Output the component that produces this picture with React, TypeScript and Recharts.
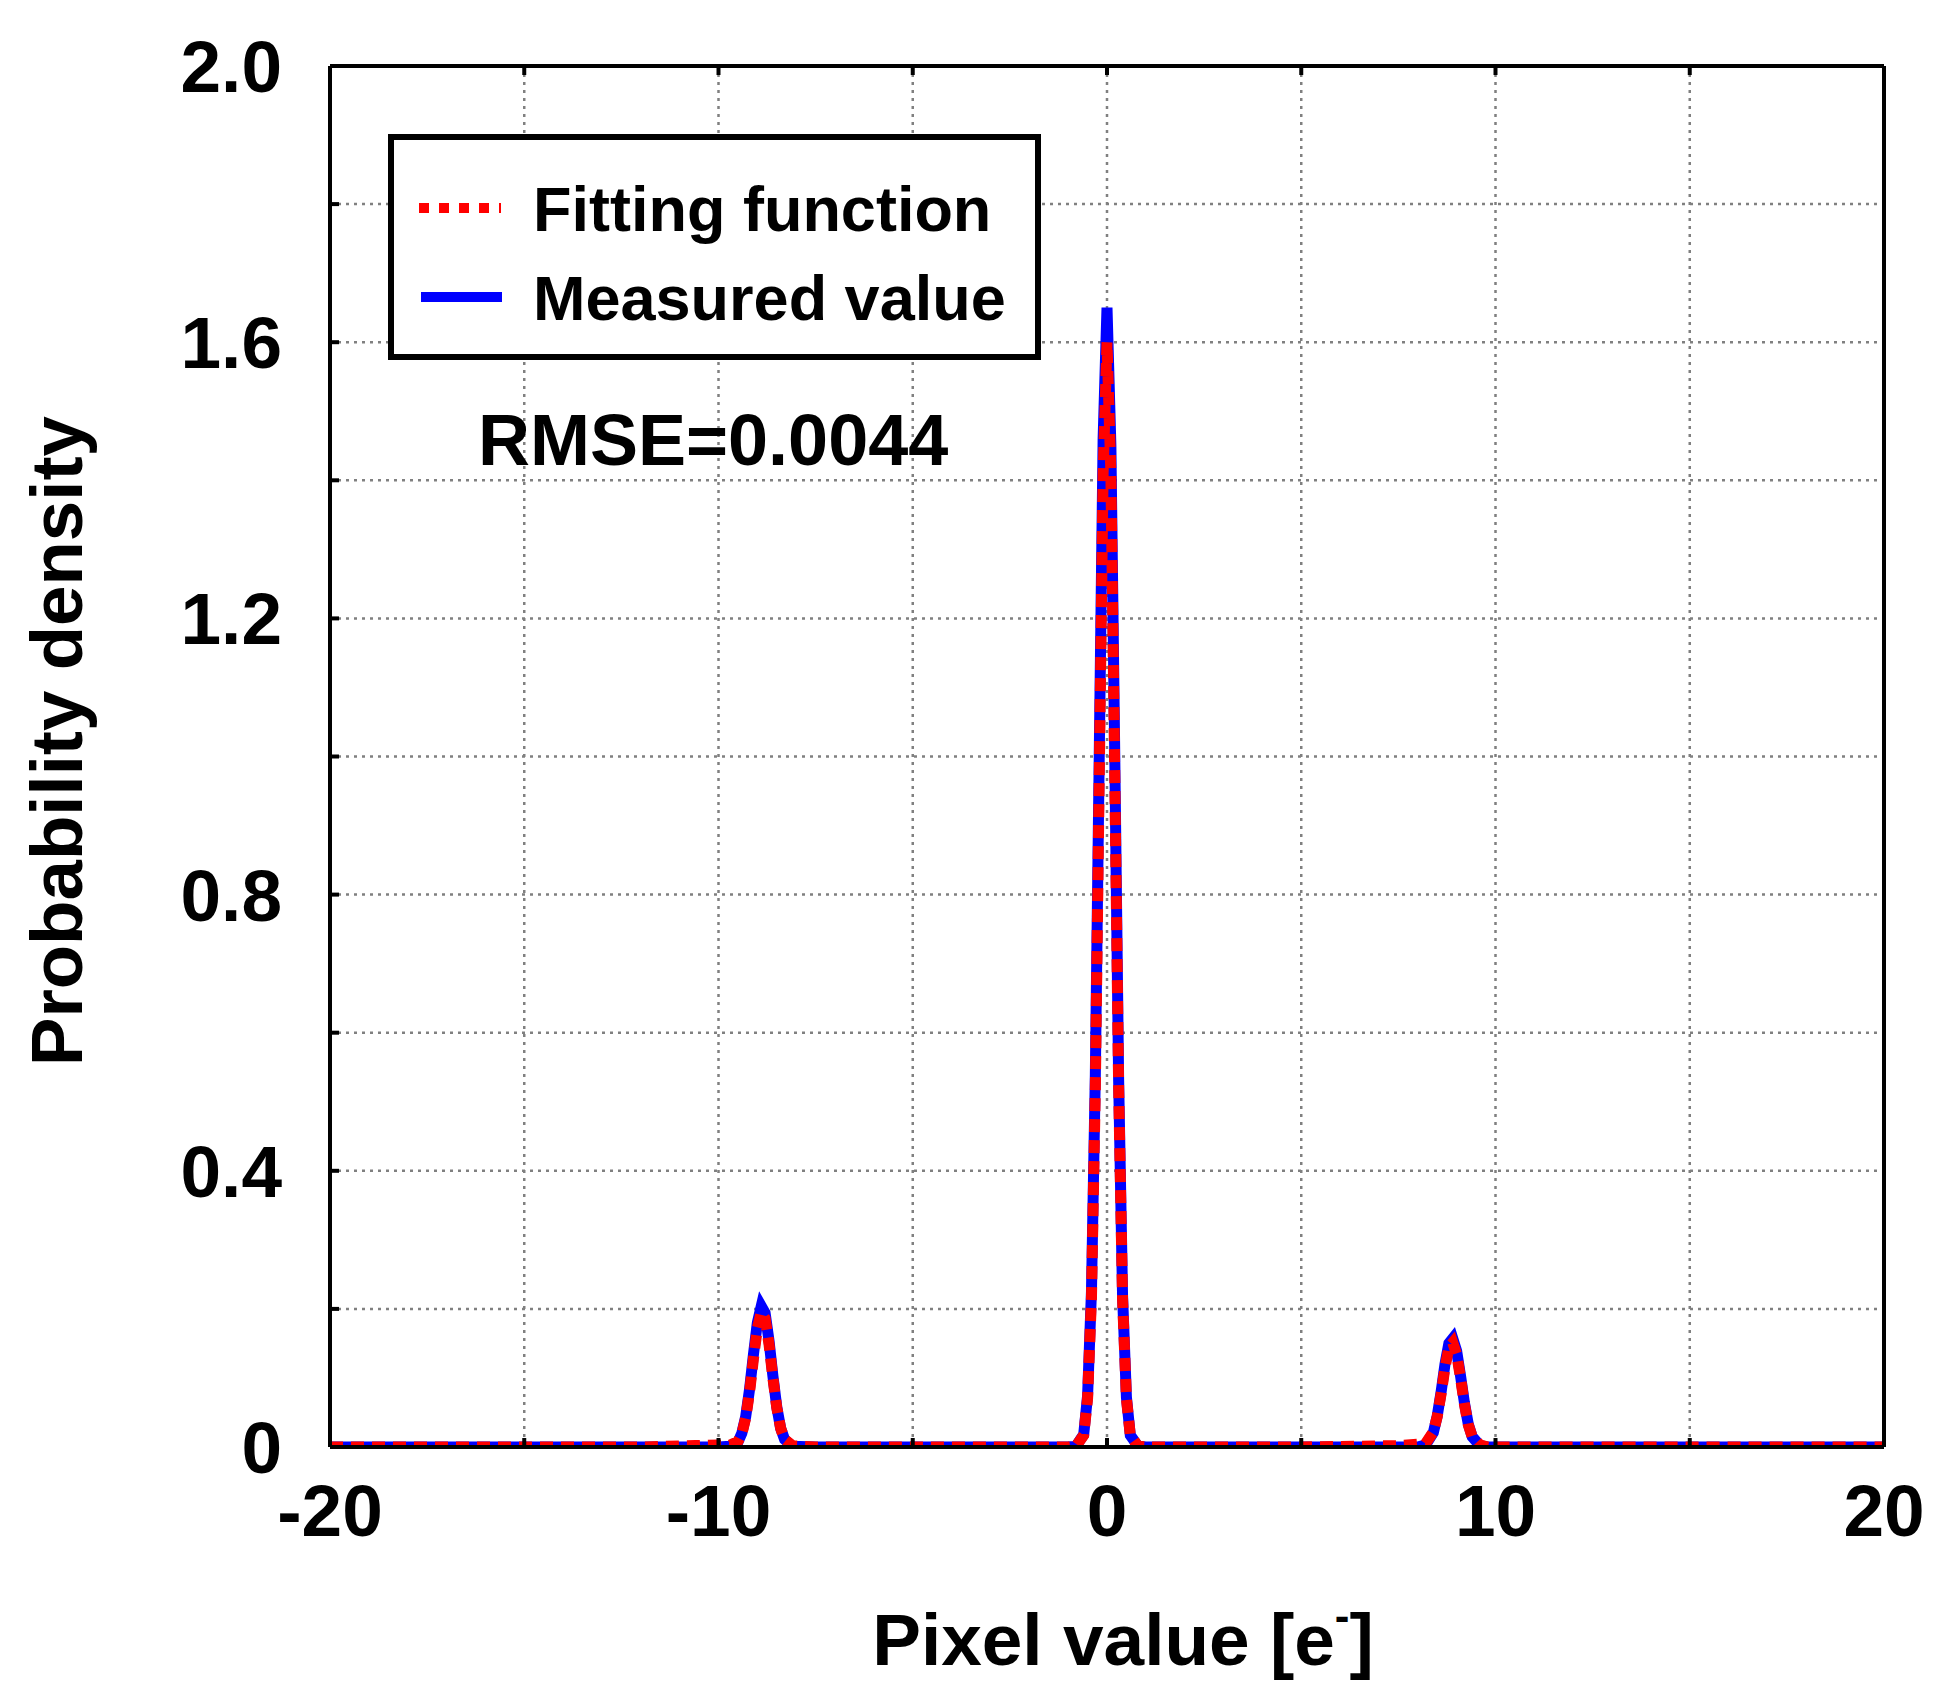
import React from "react";
import {
  LineChart,
  Line,
  XAxis,
  YAxis,
  CartesianGrid,
  Legend,
} from "recharts";

// pixel values [e-] where the curves were read
const pixelValues = [
  -20, -15, -12, -10.6, -10, -9.7, -9.5, -9.4, -9.3, -9.2, -9.1, -9.0, -8.9,
  -8.8, -8.7, -8.6, -8.5, -8.4, -8.3, -8.1, -7.5, -5, -3, -1.6, -1.0, -0.8,
  -0.6, -0.5, -0.4, -0.3, -0.2, -0.1, 0, 0.1, 0.2, 0.3, 0.4, 0.5, 0.6, 0.8,
  1.0, 1.6, 3, 5, 7.5, 8.0, 8.2, 8.4, 8.5, 8.6, 8.7, 8.8, 8.9, 9.0, 9.1, 9.2,
  9.3, 9.4, 9.6, 9.8, 10.5, 12, 15, 20,
];

const measuredValue = [
  0, 0, 0, 0, 0, 0.001, 0.007, 0.02, 0.044, 0.084, 0.134, 0.18, 0.204,
  0.194, 0.154, 0.103, 0.058, 0.027, 0.011, 0.001, 0, 0, 0, 0, 0, 0.001,
  0.018, 0.074, 0.225, 0.54, 1.0, 1.46, 1.65, 1.45, 1.0, 0.53, 0.22, 0.072,
  0.017, 0.001, 0, 0, 0, 0, 0, 0, 0.003, 0.021, 0.045, 0.08, 0.12, 0.15,
  0.157, 0.139, 0.103, 0.064, 0.033, 0.015, 0.002, 0, 0, 0, 0, 0,
];

const fittingFunction = [
  0, 0, 0, 0.002, 0.003, 0.003, 0.008, 0.019, 0.042, 0.08, 0.128, 0.172,
  0.195, 0.186, 0.149, 0.1, 0.057, 0.027, 0.011, 0.002, 0, 0, 0, 0, 0,
  0.001, 0.017, 0.07, 0.216, 0.52, 0.97, 1.41, 1.6, 1.41, 0.97, 0.52, 0.215,
  0.07, 0.017, 0.001, 0, 0, 0, 0, 0.002, 0.004, 0.005, 0.022, 0.044, 0.077,
  0.115, 0.144, 0.151, 0.134, 0.1, 0.062, 0.032, 0.015, 0.003, 0, 0, 0, 0, 0,
];

const xTicks = [-20, -15, -10, -5, 0, 5, 10, 15, 20];
const xLabelled = [-20, -10, 0, 10, 20];
const yTicks = [0, 0.2, 0.4, 0.6, 0.8, 1.0, 1.2, 1.4, 1.6, 1.8, 2.0];
const yLabels: Record<string, string> = {
  "0": "0",
  "0.4": "0.4",
  "0.8": "0.8",
  "1.2": "1.2",
  "1.6": "1.6",
  "2": "2.0",
};

const data = pixelValues.map((x, i) => ({
  x,
  measured: measuredValue[i],
  fitting: fittingFunction[i],
}));

const FONT = "'Liberation Sans', Arial, Helvetica, sans-serif";
const tickStyle = { fontSize: 73, fontWeight: 700, fill: "#000", fontFamily: FONT };

function LegendBox() {
  return (
    <svg width={653} height={226} style={{ display: "block" }}>
      <rect x={3} y={3} width={647} height={220} fill="#fff" stroke="#000" strokeWidth={6} />
      <line x1={31} y1={74} x2={113} y2={74} stroke="#ff0000" strokeWidth={10} strokeDasharray="10 10" />
      <line x1={33} y1={163} x2={114} y2={163} stroke="#0000ff" strokeWidth={10} />
      <text x={145} y={97} fontSize={63} fontWeight={700} fontFamily={FONT}>
        Fitting function
      </text>
      <text x={145} y={186} fontSize={63} fontWeight={700} fontFamily={FONT}>
        Measured value
      </text>
    </svg>
  );
}

function XLabel(props: any) {
  const vb = props.viewBox || {};
  const cx = vb.x + vb.width / 2 + 16;
  return (
    <text x={cx} y={1657} textAnchor="middle" fontSize={73} fontWeight={700} fontFamily={FONT}>
      Pixel value [e
      <tspan dy={-34} fontSize={44}>-</tspan>
      <tspan dy={34}>]</tspan>
    </text>
  );
}

function YLabel() {
  return (
    <text
      x={74}
      y={733}
      transform="rotate(-90 74 733)"
      textAnchor="middle"
      fontSize={72}
      fontWeight={700}
      fontFamily={FONT}
      textLength={650}
      lengthAdjust="spacingAndGlyphs"
    >
      Probability density
    </text>
  );
}

function App() {
  return (
    <div style={{ position: "relative", width: 1932, height: 1692, background: "#fff" }}>
      <LineChart
        width={1932}
        height={1692}
        data={data}
        margin={{ top: 48, right: 46, left: 172, bottom: 103 }}
      >
        <CartesianGrid stroke="#808080" strokeWidth={2.5} strokeDasharray="3 5" />
        <XAxis
          dataKey="x"
          type="number"
          domain={[-20, 20]}
          ticks={xTicks}
          allowDataOverflow
          height={150}
          axisLine={{ stroke: "#000", strokeWidth: 4 }}
          tickLine={{ stroke: "#000", strokeWidth: 4 }}
          tickSize={-9}
          tickMargin={46}
          tick={tickStyle}
          tickFormatter={(v: number) => (xLabelled.includes(v) ? String(v) : "")}
          label={<XLabel />}
        />
        <XAxis
          xAxisId="top"
          orientation="top"
          dataKey="x"
          type="number"
          domain={[-20, 20]}
          ticks={xTicks}
          height={10}
          axisLine={{ stroke: "#000", strokeWidth: 4 }}
          tickLine={{ stroke: "#000", strokeWidth: 4 }}
          tickSize={-9}
          tickFormatter={() => ""}
        />
        <YAxis
          type="number"
          domain={[0, 2]}
          ticks={yTicks}
          allowDataOverflow
          width={150}
          axisLine={{ stroke: "#000", strokeWidth: 4 }}
          tickLine={{ stroke: "#000", strokeWidth: 4 }}
          tickSize={-9}
          tickMargin={57}
          tick={tickStyle}
          tickFormatter={(v: number) => yLabels[String(Math.round(v * 10) / 10)] ?? ""}
          label={<YLabel />}
        />
        <YAxis
          yAxisId="right"
          orientation="right"
          type="number"
          domain={[0, 2]}
          ticks={yTicks}
          width={10}
          axisLine={{ stroke: "#000", strokeWidth: 4 }}
          tickLine={{ stroke: "#000", strokeWidth: 4 }}
          tickSize={-9}
          tickFormatter={() => ""}
        />
        <Legend
          layout="horizontal"
          verticalAlign="middle"
          align="center"
          content={() => <LegendBox />}
          wrapperStyle={{ position: "absolute", left: 380, top: 126, width: 653, height: 226 }}
        />
        <Line
          type="linear"
          dataKey="measured"
          name="Measured value"
          stroke="#0000ff"
          strokeWidth={11}
          dot={false}
          isAnimationActive={false}
        />
        <Line
          type="linear"
          dataKey="fitting"
          name="Fitting function"
          stroke="#ff0000"
          strokeWidth={11}
          strokeDasharray="13 8"
          dot={false}
          isAnimationActive={false}
        />
      </LineChart>
      <svg
        width={520}
        height={120}
        style={{ position: "absolute", left: 460, top: 380, overflow: "visible" }}
      >
        <text x={10} y={77} fontSize={72} fontWeight={700} fontFamily={FONT}>
          RMSE=0.0044
        </text>
      </svg>
    </div>
  );
}

export default App;
